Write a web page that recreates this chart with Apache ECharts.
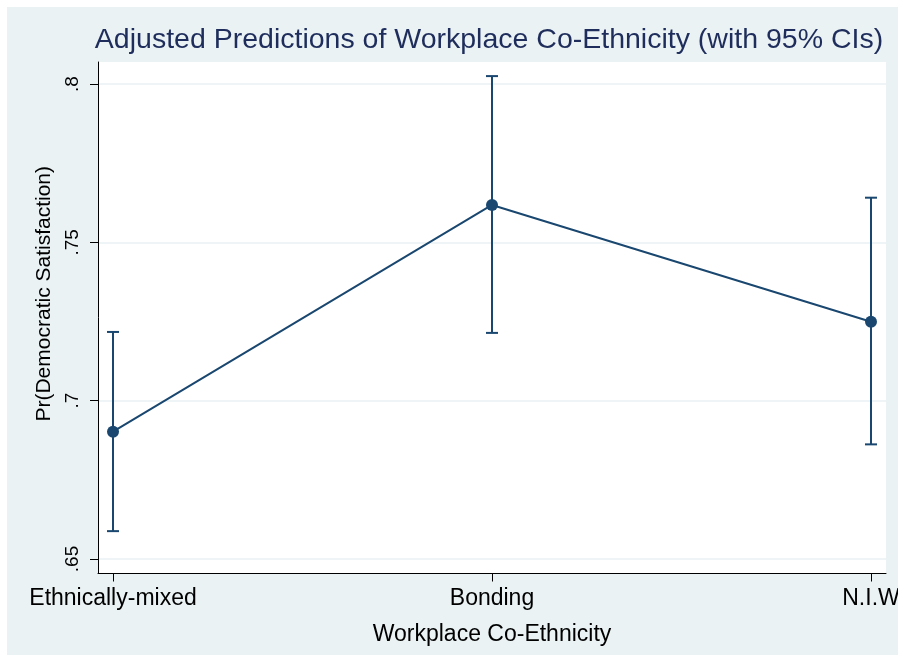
<!DOCTYPE html>
<html>
<head>
<meta charset="utf-8">
<script src="https://cdn.jsdelivr.net/npm/echarts@6/dist/echarts.min.js"></script>
<style>
  html, body { margin: 0; padding: 0; background: #ffffff; }
  #chart { width: 898px; height: 655px; }
</style>
</head>
<body>
<div id="chart"></div>
<script>
// Workplace co-ethnicity categories and their adjusted predictions
const categories = ['Ethnically-mixed', 'Bonding', 'N.I.W'];
const positions = [1, 2, 3];
const estimates = [0.6902, 0.7618, 0.7249];
const ciLower = [0.6588, 0.7214, 0.6862];
const ciUpper = [0.7217, 0.8025, 0.7641];
const yTicks = [0.65, 0.70, 0.75, 0.80];
const yTickLabels = ['.65', '.7', '.75', '.8'];

const navy = '#1a476f';
const font = 'Liberation Sans, Arial, sans-serif';

const pointData = positions.map((p, i) => [p, estimates[i]]);
const ciData = positions.map((p, i) => [p, ciLower[i], ciUpper[i]]);

const chart = echarts.init(document.getElementById('chart'), null, { renderer: 'canvas' });

chart.setOption({
  backgroundColor: '#ffffff',
  animation: false,
  textStyle: { fontFamily: font },
  graphic: [{
    type: 'rect',
    z: -10,
    silent: true,
    shape: { x: 7, y: 7, width: 891, height: 648 },
    style: { fill: '#eaf2f3' }
  }, {
    type: 'rect',
    z: -9,
    silent: true,
    shape: { x: 98, y: 62, width: 788, height: 512 },
    style: { fill: '#ffffff' }
  }],
  title: {
    text: 'Adjusted Predictions of Workplace Co-Ethnicity (with 95% CIs)',
    left: 484,
    textAlign: 'center',
    top: 21,
    textStyle: { color: '#1e2d5c', fontSize: 28.5, fontWeight: 'normal', fontFamily: font }
  },
  grid: { left: 98, right: 12, top: 62, bottom: 81.5, containLabel: false, outerBoundsMode: 'none' },
  xAxis: {
    type: 'value',
    min: 0.9604,
    max: 3.0396,
    name: 'Workplace Co-Ethnicity',
    nameLocation: 'middle',
    nameGap: 50,
    nameTextStyle: { color: '#000', fontSize: 23, fontFamily: font },
    axisLine: { show: true, onZero: false, lineStyle: { color: '#000', width: 1 } },
    axisTick: { show: true, length: 8, customValues: positions, lineStyle: { color: '#000' } },
    axisLabel: {
      customValues: positions,
      hideOverlap: false,
      color: '#000', fontSize: 23, margin: 14, fontFamily: font,
      formatter: v => categories[positions.indexOf(Math.round(v))] || ''
    },
    splitLine: { show: false }
  },
  yAxis: {
    type: 'value',
    min: 0.64542,
    max: 0.80695,
    name: 'Pr(Democratic Satisfaction)',
    nameLocation: 'middle',
    nameGap: 39,
    nameRotate: 90,
    nameTextStyle: { color: '#000', fontSize: 21, fontFamily: font, padding: [0, 0, 0, 48] },
    axisLine: { show: true, lineStyle: { color: '#000', width: 1 } },
    axisTick: { show: true, length: 8, customValues: yTicks, lineStyle: { color: '#000' } },
    axisLabel: {
      customValues: yTicks,
      rotate: 90,
      color: '#000', fontSize: 19, margin: 16, fontFamily: font,
      formatter: v => yTickLabels[yTicks.findIndex(t => Math.abs(t - v) < 1e-6)] || ''
    },
    splitLine: { show: true, lineStyle: { color: '#eaf2f3', width: 1.5 } }
  },
  series: [{
    type: 'custom',
    name: '95% CI',
    data: ciData,
    z: 2,
    renderItem: (params, api) => {
      const x = api.value(0);
      const lo = api.coord([x, api.value(1)]);
      const hi = api.coord([x, api.value(2)]);
      const half = 6;
      const style = { stroke: navy, lineWidth: 2 };
      return {
        type: 'group',
        children: [
          { type: 'line', shape: { x1: lo[0], y1: lo[1], x2: hi[0], y2: hi[1] }, style },
          { type: 'line', shape: { x1: lo[0] - half, y1: lo[1], x2: lo[0] + half, y2: lo[1] }, style },
          { type: 'line', shape: { x1: hi[0] - half, y1: hi[1], x2: hi[0] + half, y2: hi[1] }, style }
        ]
      };
    }
  }, {
    type: 'line',
    name: 'Prediction',
    data: pointData,
    z: 3,
    symbol: 'circle',
    symbolSize: 12,
    lineStyle: { color: navy, width: 2 },
    itemStyle: { color: navy, borderWidth: 0 }
  }]
});
</script>
</body>
</html>
